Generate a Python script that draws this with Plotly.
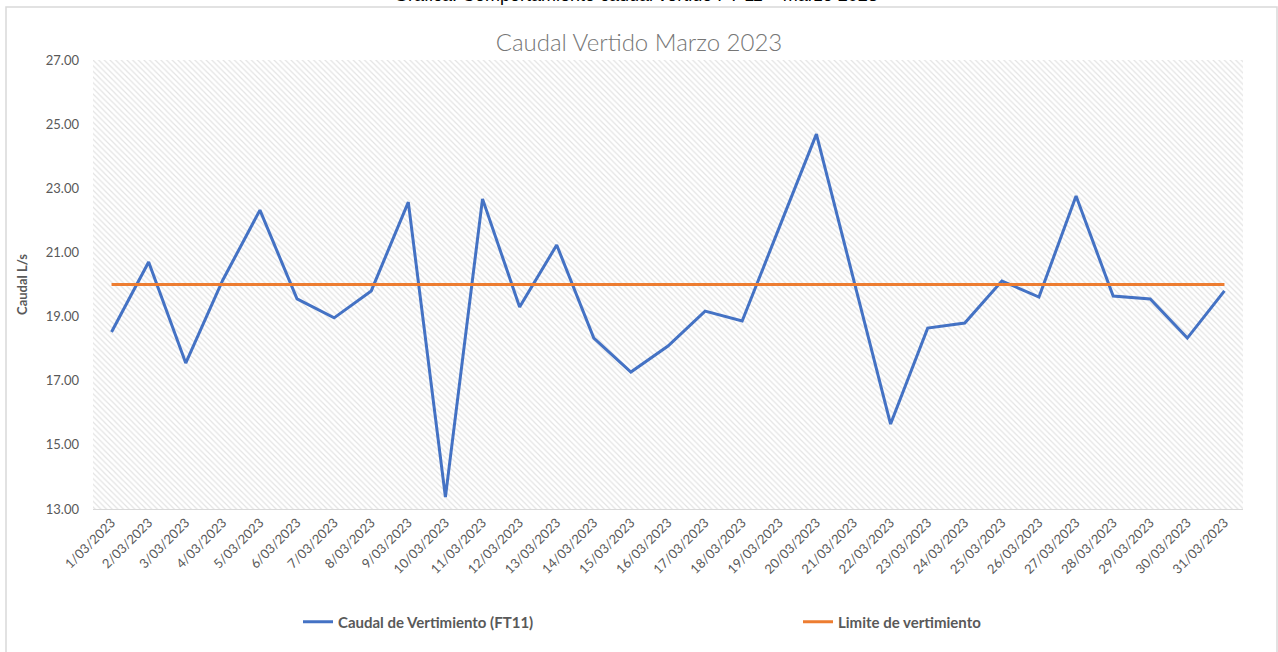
import plotly.graph_objects as go

fechas = [f"{d}/03/2023" for d in range(1, 32)]
caudal = [18.52, 20.70, 17.55, 20.14, 22.32, 19.55, 18.96, 19.80, 22.57, 13.37,
          22.67, 19.30, 21.23, 18.33, 17.27, 18.08, 19.17, 18.86, 21.78, 24.69,
          20.17, 15.65, 18.64, 18.80, 20.11, 19.61, 22.76, 19.64, 19.55, 18.33, 19.80]
limite = [20.0] * 31
Y_MIN, Y_MAX = 13, 27

FONT = "Lato"
GRAY = "#595959"
PL, PR, PT, PB = 93, 1243, 60, 509
PW, PH = PR - PL, PB - PT

def px_x(px):
    return (px - PL) / PW

def px_y(py):
    return (PB - py) / PH

fig = go.Figure()

# hatched plot-area background (Excel pattern fill)
fig.add_trace(go.Bar(
    x=fechas, y=[Y_MAX - Y_MIN] * len(fechas), base=Y_MIN, width=1,
    marker=dict(color="rgba(0,0,0,0)", line=dict(width=0),
                pattern=dict(shape="\\", fgcolor="#c8c8c8", bgcolor="white",
                             size=4, solidity=0.3)),
    hoverinfo="skip", showlegend=False))

fig.add_trace(go.Scatter(x=fechas, y=caudal, mode="lines",
                         name="Caudal de Vertimiento (FT11)", legend="legend",
                         line=dict(color="#4472C4", width=3)))
fig.add_trace(go.Scatter(x=fechas, y=limite, mode="lines",
                         name="Limite de vertimiento", legend="legend2",
                         line=dict(color="#ED7D31", width=3)))

legfont = dict(family=FONT, size=15, color=GRAY, weight="bold")

fig.update_layout(
    width=1278, height=652,
    margin=dict(l=PL, r=1278 - PR, t=PT, b=652 - PB, autoexpand=False),
    paper_bgcolor="white", plot_bgcolor="white",
    font=dict(family=FONT, color=GRAY, size=13),
    title=dict(text="Caudal Vertido Marzo 2023", x=0.5, xanchor="center",
               y=1 - 43 / 652, yanchor="middle",
               font=dict(family=FONT, size=24, color="#767676", weight=300)),
    bargap=0,
    showlegend=True,
    legend=dict(orientation="h", x=px_x(298), xanchor="left",
                y=px_y(622), yanchor="middle", font=legfont, itemwidth=30,
                bgcolor="rgba(0,0,0,0)"),
    legend2=dict(orientation="h", x=px_x(798), xanchor="left",
                 y=px_y(622), yanchor="middle", font=legfont, itemwidth=30,
                 bgcolor="rgba(0,0,0,0)"),
    xaxis=dict(type="category", tickangle=-45, showgrid=False,
               showline=True, linecolor="#d9d9d9", linewidth=1,
               ticks="", tickfont=dict(family=FONT, size=13, color=GRAY),
               range=[-0.5, len(fechas) - 0.5]),
    yaxis=dict(range=[Y_MIN, Y_MAX], dtick=2, tick0=13, tickformat=".2f",
               showgrid=True, gridcolor="#d9d9d9", gridwidth=1,
               zeroline=False, showline=False, ticks="",
               ticklabelstandoff=13,
               tickfont=dict(family=FONT, size=13, color=GRAY),
               title=dict(text="<b>Caudal L/s</b>", standoff=15,
                          font=dict(family=FONT, size=13, color=GRAY))),
)

# outer chart frame
fig.add_shape(type="rect", xref="paper", yref="paper",
              x0=px_x(6), x1=px_x(1277), y0=px_y(700), y1=px_y(7),
              line=dict(color="#d9d9d9", width=1.5), fillcolor="rgba(0,0,0,0)",
              layer="below")

# document caption above the chart, cut off by the crop as in the source
fig.add_annotation(text="Gráfica: Comportamiento caudal vertido FT-11 – marzo 2023",
                   xref="paper", yref="paper", x=px_x(636), xanchor="center",
                   y=px_y(7), yanchor="bottom", showarrow=False,
                   font=dict(family="Liberation Sans", size=18, color="black"))

fig.write_html("out.html",
               config={"displayModeBar": False},
               post_script="document.body.style.margin='0px';"
                           "document.body.style.overflow='hidden';")
